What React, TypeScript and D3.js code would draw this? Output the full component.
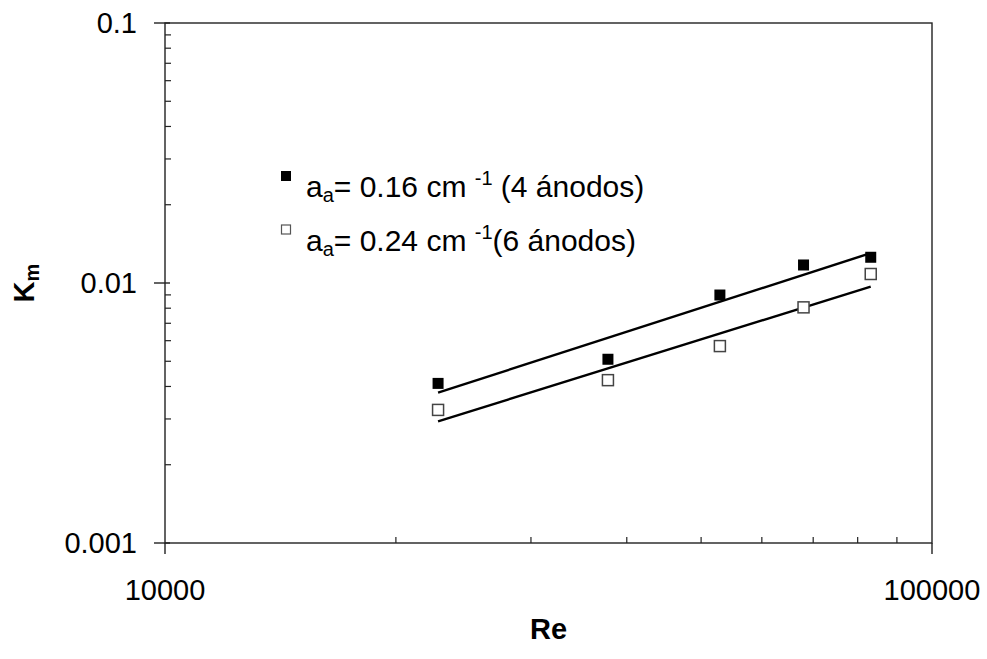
import React from "react";
import * as d3 from "d3";

const reValues = [22700, 37800, 52900, 68000, 83200];
const km4Anodes = [0.00411, 0.00509, 0.00899, 0.01173, 0.01256];
const km6Anodes = [0.00325, 0.00423, 0.00572, 0.00806, 0.01083];
const xTickValues = [10000, 100000];
const yTickValues = [0.001, 0.01, 0.1];
const legendLabels = [
  { main: "0.16", tail: " (4 ánodos)" },
  { main: "0.24", tail: "(6 ánodos)" },
];

const W = 987;
const H = 659;
const left = 165;
const right = 932;
const top = 23;
const bottom = 543;
const FONT = "'Liberation Sans', Arial, Helvetica, sans-serif";

function powerFit(xs: number[], ys: number[]) {
  const lx = xs.map(Math.log10);
  const ly = ys.map(Math.log10);
  const mx = d3.mean(lx)!;
  const my = d3.mean(ly)!;
  let sxy = 0;
  let sxx = 0;
  lx.forEach((v, i) => {
    sxy += (v - mx) * (ly[i] - my);
    sxx += (v - mx) * (v - mx);
  });
  const b = sxy / sxx;
  const a = my - b * mx;
  return (x: number) => Math.pow(10, a + b * Math.log10(x));
}

export default function App() {
  const x = d3.scaleLog().domain([10000, 100000]).range([left, right]);
  const y = d3.scaleLog().domain([0.001, 0.1]).range([bottom, top]);

  const xMinor: number[] = [];
  for (let k = 2; k <= 9; k++) xMinor.push(k * 10000);
  const yMinor: number[] = [];
  [0.001, 0.01].forEach((d) => {
    for (let k = 2; k <= 9; k++) yMinor.push(k * d);
  });

  const xExt = d3.extent(reValues) as [number, number];
  const fit4 = powerFit(reValues, km4Anodes);
  const fit6 = powerFit(reValues, km6Anodes);
  const trend = (f: (v: number) => number) =>
    d3
      .line<number>()
      .x((d) => x(d))
      .y((d) => y(f(d)))(xExt) || "";

  const sz = 11;

  return (
    <svg width={W} height={H} style={{ display: "block", position: "absolute", left: 0, top: 0 }} fontFamily={FONT}>
      <rect x={0} y={0} width={W} height={H} fill="#fff" />
      <rect x={left} y={top} width={right - left} height={bottom - top} fill="none" stroke="#222" strokeWidth={1.4} />
      {yTickValues.map((v) => (
        <g key={"ym" + v}>
          <line x1={left - 11} x2={left + 5} y1={y(v)} y2={y(v)} stroke="#222" strokeWidth={1.4} />
          <text x={137} y={y(v)} dy="0.36em" textAnchor="end" fontSize={29} fill="#000">
            {String(v)}
          </text>
        </g>
      ))}
      {yMinor.map((v) => (
        <line key={"yn" + v} x1={left} x2={left + 6} y1={y(v)} y2={y(v)} stroke="#222" strokeWidth={1.2} />
      ))}
      {xTickValues.map((v) => (
        <g key={"xm" + v}>
          <line x1={x(v)} x2={x(v)} y1={bottom} y2={bottom + 11} stroke="#222" strokeWidth={1.4} />
          <text x={x(v)} y={600} textAnchor="middle" fontSize={29} fill="#000">
            {String(v)}
          </text>
        </g>
      ))}
      {xMinor.map((v) => (
        <line key={"xn" + v} x1={x(v)} x2={x(v)} y1={bottom} y2={bottom - 6} stroke="#222" strokeWidth={1.2} />
      ))}
      <path d={trend(fit4)} fill="none" stroke="#000" strokeWidth={2.4} />
      <path d={trend(fit6)} fill="none" stroke="#000" strokeWidth={2.4} />
      {reValues.map((r, i) => (
        <rect key={"f" + i} x={x(r) - sz / 2} y={y(km4Anodes[i]) - sz / 2} width={sz} height={sz} fill="#000" />
      ))}
      {reValues.map((r, i) => (
        <rect
          key={"o" + i}
          x={x(r) - sz / 2}
          y={y(km6Anodes[i]) - sz / 2}
          width={sz}
          height={sz}
          fill="#fff"
          stroke="#444"
          strokeWidth={1.5}
        />
      ))}
      <rect x={281} y={171} width={10} height={10} fill="#000" />
      <rect x={281.5} y={225} width={9} height={9} fill="#fff" stroke="#555" strokeWidth={1.2} />
      {legendLabels.map((l, i) => (
        <text key={"lg" + i} x={306} y={197 + i * 54} fontSize={30} fill="#000">
          a
          <tspan fontSize={20} dy={5}>a</tspan>
          <tspan dy={-5}>{"= " + l.main + " cm "}</tspan>
          <tspan fontSize={20} dy={-12}>-1</tspan>
          <tspan dy={12}>{l.tail}</tspan>
        </text>
      ))}
      <text x={(left + right) / 2} y={639} textAnchor="middle" fontSize={29} fontWeight="bold" fill="#000">
        Re
      </text>
      <text
        transform={`translate(34, ${(top + bottom) / 2}) rotate(-90)`}
        textAnchor="middle"
        fontSize={29}
        fontWeight="bold"
        fill="#000"
      >
        K<tspan fontSize={20} dy={5}>m</tspan>
      </text>
    </svg>
  );
}
